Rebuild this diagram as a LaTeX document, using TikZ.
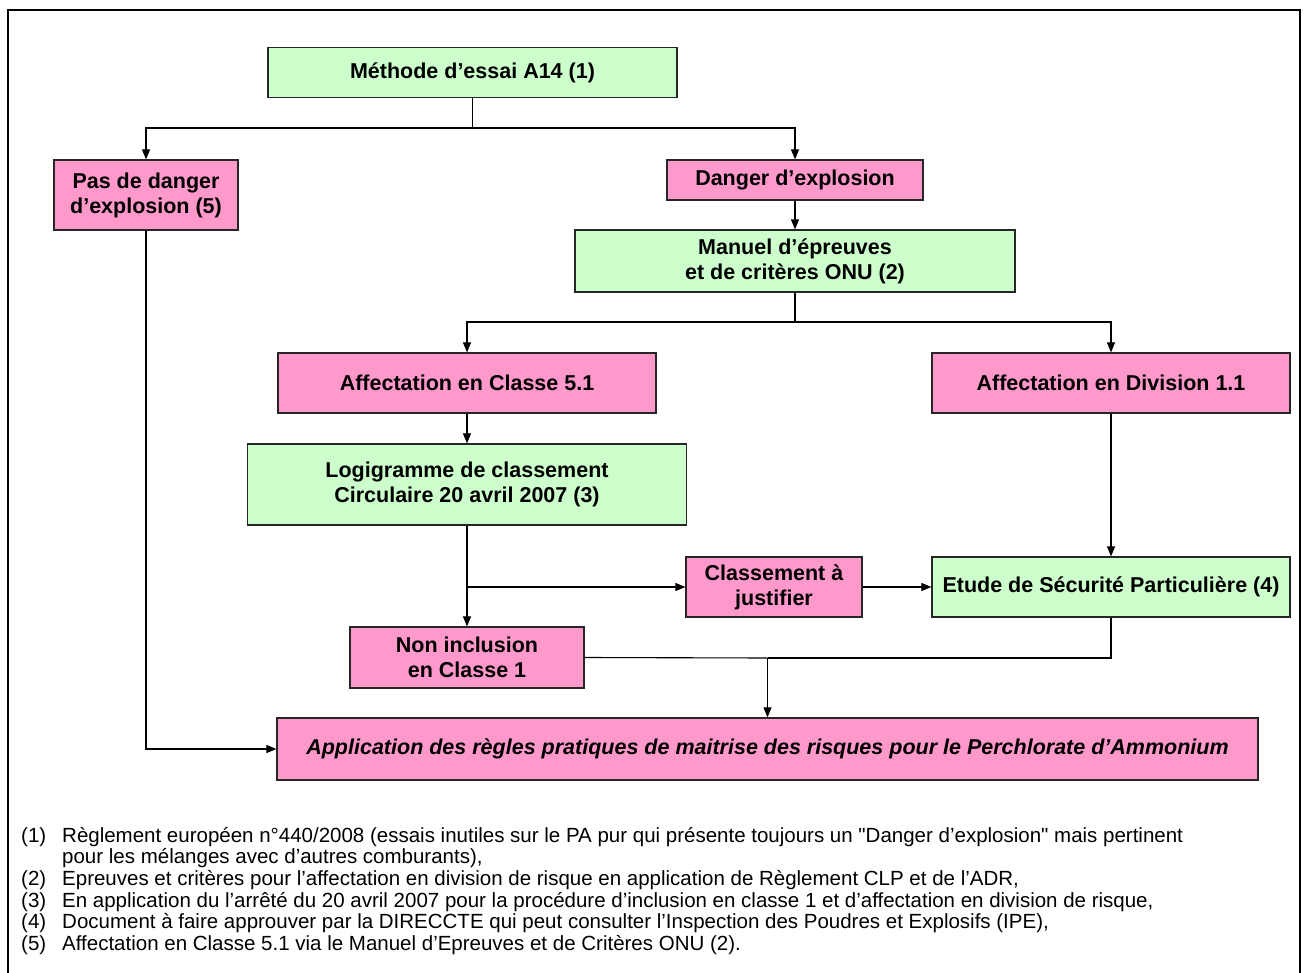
\documentclass[tikz,border=0pt]{standalone}
\usepackage{fontspec}
\setmainfont{Liberation Sans}[Ligatures=TeXOff]
\usetikzlibrary{arrows.meta}
\definecolor{lgreen}{HTML}{CCFFCC}
\definecolor{lpink}{HTML}{FF99CC}
\tikzset{
  box/.style={draw=black!85, line width=1.2pt, align=center, inner sep=2pt,
    font=\bfseries\fontsize{21.5}{25}\selectfont},
  gbox/.style={box, fill=lgreen},
  pbox/.style={box, fill=lpink},
  arr/.style={line width=1.1pt, -{Triangle[length=10pt,width=8pt]}},
  ln/.style={line width=1.1pt},
  fn/.style={anchor=base west, inner sep=0pt, font=\fontsize{20.5}{22}\selectfont},
}
\begin{document}
\begin{tikzpicture}[x=1pt,y=-1pt]
\useasboundingbox (0,0) rectangle (1306,973);
\draw[line width=1.5pt] (8,973) -- (8,10) -- (1300,10) -- (1300,973);

\node[gbox, minimum width=409, minimum height=50] (meth) at (472.5,72.5) {Méthode d’essai A14 (1)};
\node[pbox, minimum width=184, minimum height=70] (pas) at (146,195) {Pas de danger\\d’explosion (5)};
\node[pbox, minimum width=256, minimum height=40] (dang) at (795,180) {Danger d’explosion};
\node[gbox, minimum width=440, minimum height=62] (man) at (795,261) {Manuel d’épreuves\\et de critères ONU (2)};
\node[pbox, minimum width=378, minimum height=60] (c51) at (467,383) {Affectation en Classe 5.1};
\node[pbox, minimum width=358, minimum height=60] (d11) at (1111,383) {Affectation en Division 1.1};
\node[gbox, minimum width=439, minimum height=81] (logi) at (467,484.5) {Logigramme de classement\\Circulaire 20 avril 2007 (3)};
\node[pbox, minimum width=176, minimum height=60] (cla) at (774,587) {Classement à\\justifier};
\node[gbox, minimum width=358, minimum height=60] (etu) at (1111,587) {Etude de Sécurité Particulière (4)};
\node[pbox, minimum width=234, minimum height=61] (non) at (467,657.5) {Non inclusion\\en Classe 1};
\node[pbox, minimum width=981, minimum height=62, font=\bfseries\itshape\fontsize{21.5}{25}\selectfont] (app) at (767.5,749) {Application des règles pratiques de maitrise des risques pour le Perchlorate d’Ammonium};

\coordinate (b1) at (472.5,128);
\coordinate (b2) at (795,322);
\coordinate (b3) at (467,587);
\coordinate (b4) at (767.5,658);

\draw[ln] (meth.south) -- (b1);
\draw[arr] (b1) -| (pas.north);
\draw[arr] (b1) -| (dang.north);
\draw[arr] (dang.south) -- (man.north);
\draw[ln] (man.south) -- (b2);
\draw[arr] (b2) -| (c51.north);
\draw[arr] (b2) -| (d11.north);
\draw[arr] (c51.south) -- (logi.north);
\draw[arr] (logi.south) -- (non.north);
\draw[arr] (b3) -- (cla.west);
\draw[arr] (cla.east) -- (etu.west);
\draw[arr] (d11.south) -- (etu.north);
\draw[ln] (non.east) -- (b4);
\draw[ln] (etu.south) |- (b4);
\draw[arr] (b4) -- (app.north);
\draw[arr] (pas.south) |- (app.west);

\node[fn] (l1) at (21,842) {(1)};
\node[fn] (t1) at (62,842) {Règlement européen n°440/2008 (essais inutiles sur le PA pur qui présente toujours un "Danger d’explosion" mais pertinent};
\node[fn] (t1b) at (62,863.7) {pour les mélanges avec d’autres comburants),};
\node[fn] (l2) at (21,885.4) {(2)};
\node[fn] (t2) at (62,885.4) {Epreuves et critères pour l’affectation en division de risque en application de Règlement CLP et de l’ADR,};
\node[fn] (l3) at (21,907.1) {(3)};
\node[fn] (t3) at (62,907.1) {En application du l’arrêté du 20 avril 2007 pour la procédure d’inclusion en classe 1 et d’affectation en division de risque,};
\node[fn] (l4) at (21,928.8) {(4)};
\node[fn] (t4) at (62,928.8) {Document à faire approuver par la DIRECCTE qui peut consulter l’Inspection des Poudres et Explosifs (IPE),};
\node[fn] (l5) at (21,950.5) {(5)};
\node[fn] (t5) at (62,950.5) {Affectation en Classe 5.1 via le Manuel d’Epreuves et de Critères ONU (2).};
\end{tikzpicture}
\end{document}
